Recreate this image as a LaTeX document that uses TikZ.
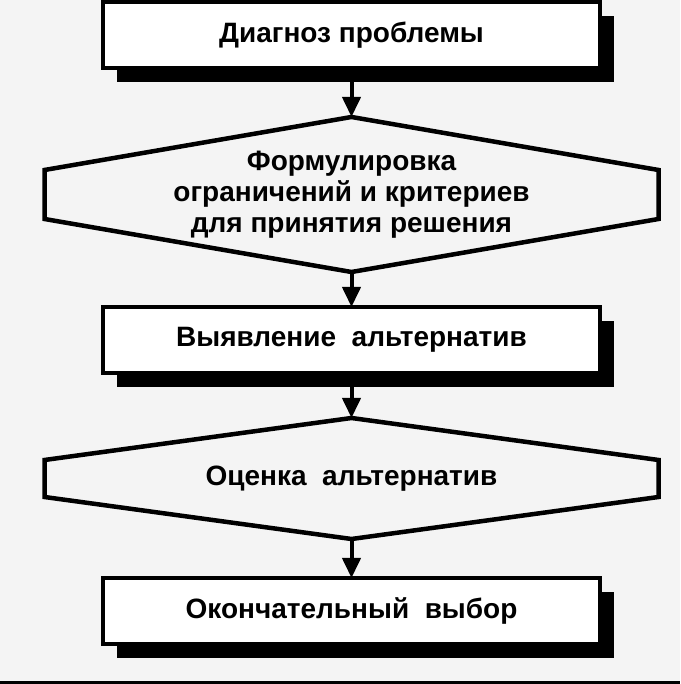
\documentclass[tikz,border=0pt]{standalone}
\usepackage{fontspec}
\setsansfont{Liberation Sans}
\usetikzlibrary{arrows.meta,positioning,shadows}
\definecolor{bg}{RGB}{244,244,244}

\begin{document}
\begin{tikzpicture}[
  x=1pt, y=1pt,
  font=\sffamily\bfseries\fontsize{28}{31}\selectfont,
  stepbox/.style={draw, line width=4.5pt, fill=white, minimum width=497pt, minimum height=66pt,
    inner sep=0pt, outer sep=0pt, align=center,
    drop shadow={shadow xshift=14pt, shadow yshift=-14pt, fill=black, opacity=1}},
  hexa/.style={minimum width=614pt, inner sep=0pt, outer sep=0pt, align=center},
  hexline/.style={draw, line width=4.5pt, line join=miter},
  arr/.style={-{Triangle[length=20pt,width=18pt]}, line width=4pt}
]
\fill[bg] (0,0) rectangle (680,684);
\useasboundingbox (0,0) rectangle (680,684);

\node[stepbox] at (351.5,649) (diag) {Диагноз проблемы};
\node[hexa, minimum height=155pt, below=49pt of diag] (crit) {Формулировка\\ограничений и критериев\\для принятия решения};
\draw[hexline] (crit.north) -- ([yshift=-53pt]crit.north east) -- ([yshift=53pt]crit.south east)
  -- (crit.south) -- ([yshift=53pt]crit.south west) -- ([yshift=-53pt]crit.north west) -- cycle;
\node[stepbox, below=35pt of crit] (alt) {Выявление\ \ альтернатив};
\node[hexa, minimum height=121pt, below=45pt of alt] (eval) {Оценка\ \ альтернатив};
\draw[hexline] (eval.north) -- ([yshift=-42pt]eval.north east) -- ([yshift=42pt]eval.south east)
  -- (eval.south) -- ([yshift=42pt]eval.south west) -- ([yshift=-42pt]eval.north west) -- cycle;
\node[stepbox, below=39pt of eval] (final) {Окончательный\ \ выбор};

\draw[arr] (diag) -- (crit);
\draw[arr] (crit) -- (alt);
\draw[arr] (alt) -- (eval);
\draw[arr] (eval) -- (final);

% edge of the scan
\draw[line width=3pt] (0,1.5) -- (680,1.5);
\end{tikzpicture}
\end{document}
